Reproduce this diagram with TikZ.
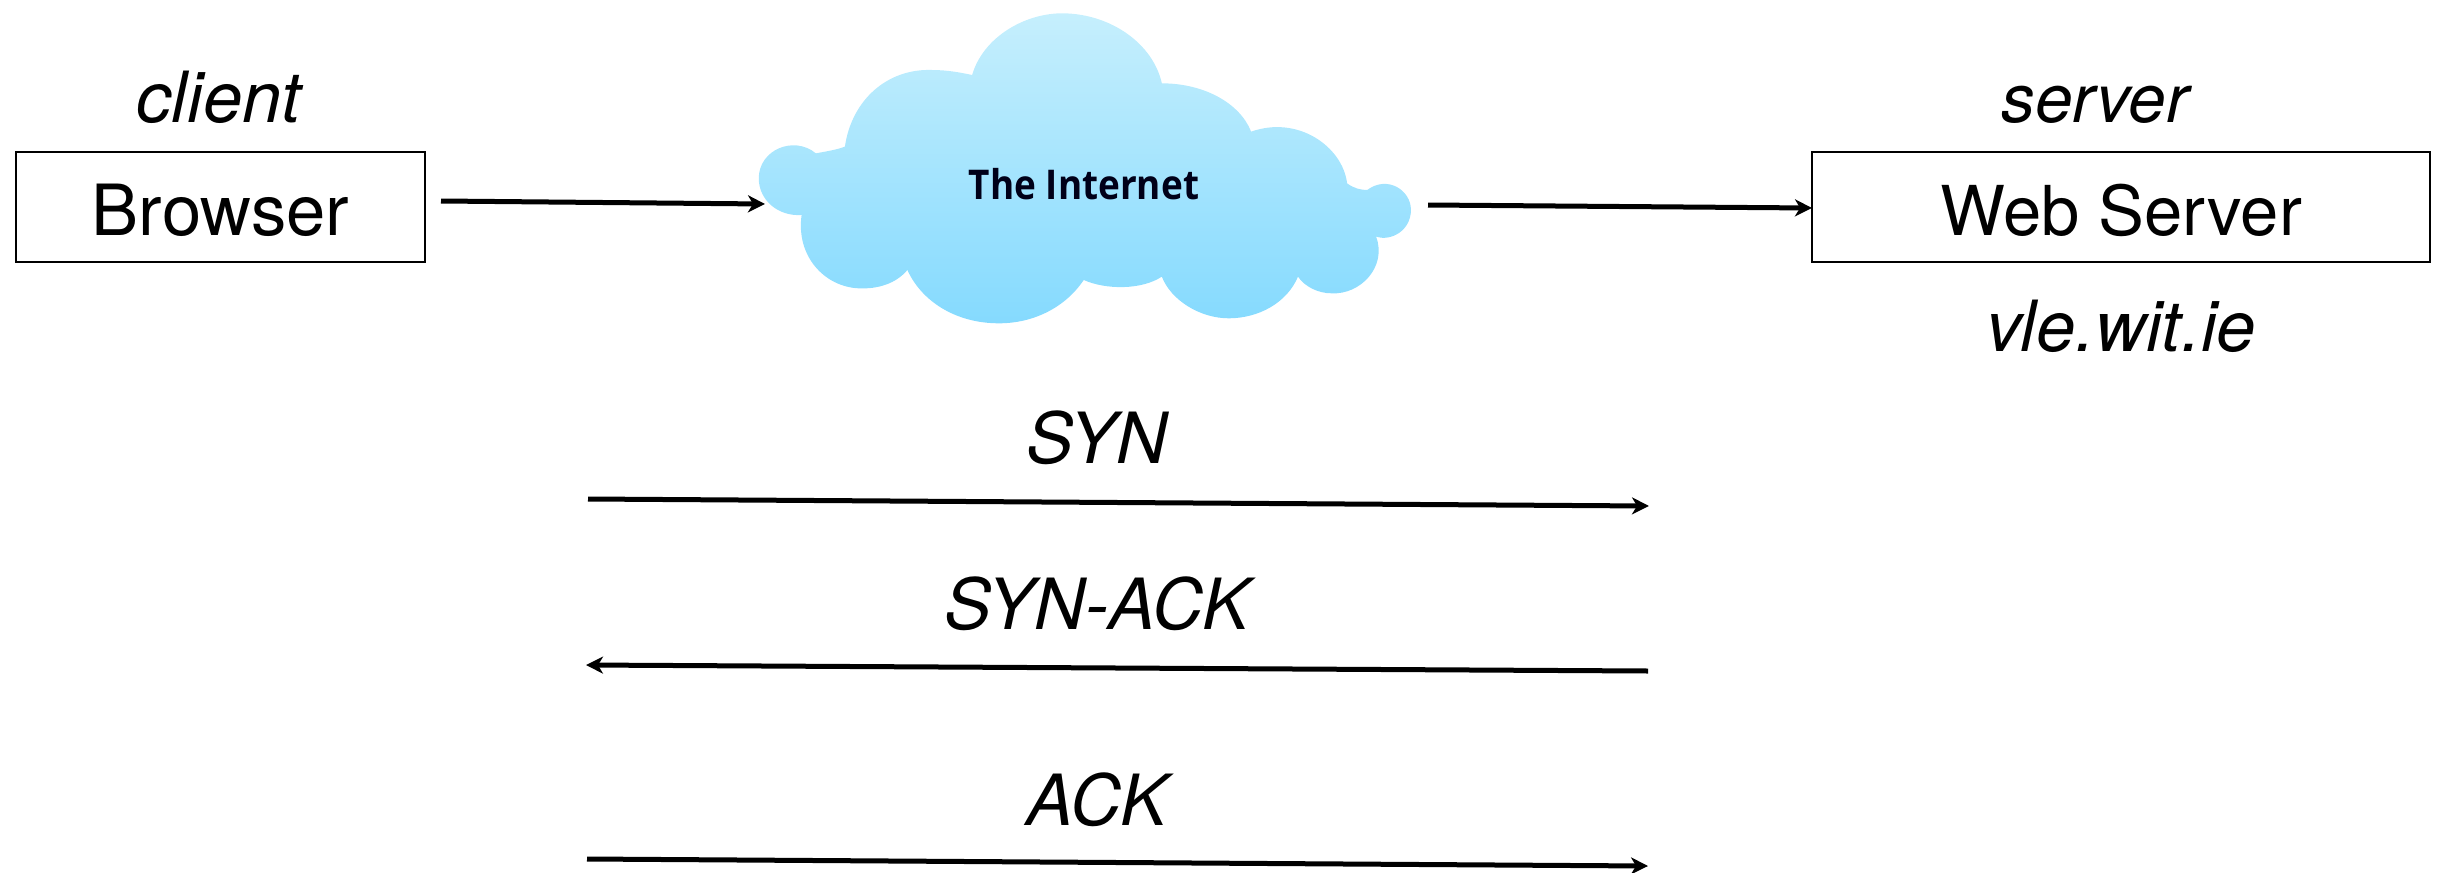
\documentclass[tikz,border=0pt]{standalone}
\usepackage{fontspec}
\setmainfont{TeX Gyre Heros}
\newfontfamily\cloudfont[FakeStretch=0.9]{Open Sans}
\usetikzlibrary{arrows.meta}
\definecolor{cloudtop}{HTML}{C6EFFD}
\definecolor{cloudbot}{HTML}{85DAFE}
\tikzset{
  x=1pt,y=-1pt,
  boxnode/.style={draw=black,line width=2.6pt,inner sep=0pt,minimum height=110pt,text height=56pt,text depth=0pt,font=\fontsize{70.6}{70.6}\selectfont},
  tag/.style={anchor=base,inner sep=0pt,font=\fontsize{70.6}{70.6}\selectfont\itshape},
  conn/.style={line width=5pt,-{Stealth[length=17pt,width=17pt,inset=5pt]}},
}
\begin{document}
\begin{tikzpicture}
\useasboundingbox (0,0) rectangle (2453,873);
% cloud
\begin{scope}[shift={(740,0)},x=0.4464pt,y=-0.3333pt]
\shade[top color=cloudtop,bottom color=cloudbot]
 (170,460) .. controls (190,455) and (215,450) .. (235,440)
 .. controls (250,300) and (330,205) .. (430,210)
 .. controls (465,210) and (495,218) .. (520,225)
 .. controls (545,110) and (640,38) .. (725,40)
 .. controls (830,42) and (925,130) .. (945,250)
 .. controls (1040,250) and (1120,310) .. (1145,395)
 .. controls (1250,345) and (1350,440) .. (1360,550)
 .. controls (1375,565) and (1390,570) .. (1405,570)
 .. controls (1450,525) and (1503,570) .. (1503,630)
 .. controls (1503,690) and (1460,725) .. (1425,710)
 .. controls (1450,800) and (1390,885) .. (1325,880)
 .. controls (1295,880) and (1265,860) .. (1250,830)
 .. controls (1225,910) and (1160,955) .. (1095,955)
 .. controls (1030,955) and (965,900) .. (945,830)
 .. controls (900,870) and (820,870) .. (770,840)
 .. controls (730,920) and (660,970) .. (580,970)
 .. controls (480,970) and (405,900) .. (375,810)
 .. controls (350,850) and (310,868) .. (265,865)
 .. controls (190,860) and (125,770) .. (138,645)
 .. controls (85,650) and (42,600) .. (42,535)
 .. controls (42,450) and (120,405) .. (170,460) -- cycle;
\end{scope}
\node[anchor=base,inner sep=0pt,text=black!90!blue,font=\cloudfont\bfseries\fontsize{41}{41}\selectfont] (inet) at (1084,199) {The Internet};
% boxes
\node[boxnode,minimum width=409pt] (browser) at (220.5,207) {Browser};
\node[boxnode,minimum width=618pt,font=\fontsize{68.8}{68.8}\selectfont] (webserver) at (2121,207) {Web Server};
% labels
\node[tag] (client) at (219,122) {client};
\node[tag,font=\fontsize{67.5}{67.5}\selectfont\itshape] (server) at (2095,122) {server};
\node[tag] (vle) at (2121,351) {vle.wit.ie};
\node[tag] (syn) at (1097,463) {SYN};
\node[tag] (synack) at (1097,629) {SYN-ACK};
\node[tag] (ack) at (1097,825) {ACK};
% connector ends
\coordinate (a1) at (441,201); \coordinate (a2) at (765,204);
\coordinate (b1) at (1428,205); \coordinate (b2) at (1812,208);
\coordinate (c1) at (588,499); \coordinate (c2) at (1649,506);
\coordinate (d1) at (1648,671); \coordinate (d2) at (586,665);
\coordinate (e1) at (587,859); \coordinate (e2) at (1648,866);
\draw[conn] (a1) -- (a2);
\draw[conn] (b1) -- (b2);
\draw[conn] (c1) -- (c2);
\draw[conn] (d1) -- (d2);
\draw[conn] (e1) -- (e2);
\end{tikzpicture}
\end{document}
